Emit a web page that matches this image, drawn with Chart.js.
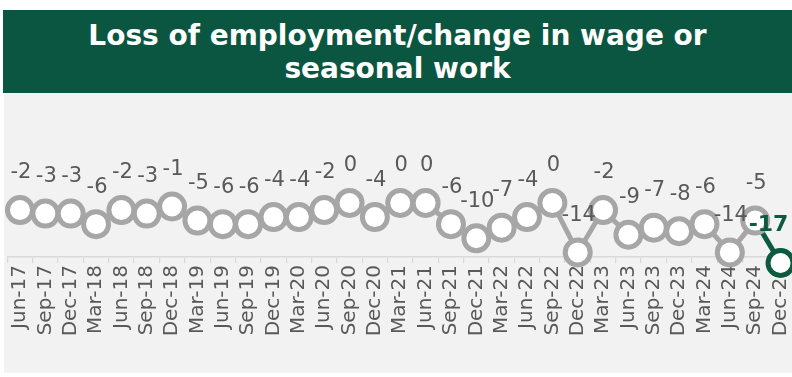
<!DOCTYPE html>
<html>
<head>
<meta charset="utf-8">
<script src="https://cdn.jsdelivr.net/npm/chart.js@4"></script>
<style>
  html, body { margin: 0; padding: 0; background: #ffffff; width: 792px; height: 377px; overflow: hidden; }
  #title {
    position: absolute; left: 3px; top: 10px; width: 789px; height: 83px;
    background: #0b5640; color: #ffffff;
    font-family: "DejaVu Sans", sans-serif; font-weight: bold; font-size: 28px; line-height: 33px;
    text-align: center; display: flex; align-items: center; justify-content: center;
  }
  #panel { position: absolute; left: 4px; top: 93px; width: 788px; height: 280px; background: #f2f2f2; overflow: hidden; }
  #panel canvas { position: absolute; left: 0; top: 0; }
</style>
</head>
<body>
<div id="title"><div>Loss of employment/change in wage or<br>seasonal work</div></div>
<div id="panel"><canvas id="chart" width="792" height="280"></canvas></div>
<script>
// Quarterly net balance (%)
const quarters = [
  'Jun-17', 'Sep-17', 'Dec-17', 'Mar-18', 'Jun-18', 'Sep-18', 'Dec-18',
  'Mar-19', 'Jun-19', 'Sep-19', 'Dec-19', 'Mar-20', 'Jun-20', 'Sep-20', 'Dec-20',
  'Mar-21', 'Jun-21', 'Sep-21', 'Dec-21', 'Mar-22', 'Jun-22', 'Sep-22', 'Dec-22',
  'Mar-23', 'Jun-23', 'Sep-23', 'Dec-23', 'Mar-24', 'Jun-24', 'Sep-24', 'Dec-24'
];
const values = [
  -2, -3, -3, -6, -2, -3, -1,
  -5, -6, -6, -4, -4, -2, 0, -4,
  0, 0, -6, -10, -7, -4, 0, -14,
  -2, -9, -7, -8, -6, -14, -5, -17
];

const GREEN = '#0d5b3f';
const GREY_LINE = '#a6a6a6';
const LABEL_GREY = '#595959';
const lastIndex = values.length - 1;

// Value labels above each marker; the latest quarter is emphasised
const valueLabels = {
  id: 'valueLabels',
  afterDatasetsDraw(chart) {
    const ctx = chart.ctx;
    const meta = chart.getDatasetMeta(0);
    ctx.save();
    ctx.textAlign = 'center';
    ctx.textBaseline = 'middle';
    meta.data.forEach((pt, i) => {
      const latest = i === lastIndex;
      ctx.font = latest ? 'bold 22px "DejaVu Sans", sans-serif' : '21px "DejaVu Sans", sans-serif';
      ctx.fillStyle = latest ? GREEN : LABEL_GREY;
      ctx.fillText(String(values[i]), pt.x + (latest ? -12 : 1), pt.y - (latest ? 38 : 37));
    });
    ctx.restore();
  }
};

new Chart(document.getElementById('chart'), {
  type: 'line',
  data: {
    labels: quarters,
    datasets: [{
      data: values,
      borderColor: GREY_LINE,
      borderWidth: 5,
      tension: 0,
      clip: false,
      pointRadius: 12.5,
      pointBorderWidth: 5,
      pointBackgroundColor: '#ffffff',
      pointBorderColor: values.map((v, i) => i === lastIndex ? GREEN : GREY_LINE),
      segment: {
        borderColor: c => c.p1DataIndex === lastIndex ? GREEN : GREY_LINE
      }
    }]
  },
  options: {
    responsive: false,
    animation: false,
    layout: { autoPadding: false, padding: { left: 3.3, right: 2.8, top: 4, bottom: 0 } },
    plugins: { legend: { display: false }, tooltip: { enabled: false }, title: { display: false } },
    scales: {
      x: {
        type: 'category',
        offset: true,
        afterFit: scale => {
          scale.height = 116;
          scale.paddingLeft = 0;
          scale.paddingRight = 0;
        },
        border: { display: true, color: '#d9d9d9', width: 1.5 },
        grid: { display: true, offset: true, drawOnChartArea: false, drawTicks: true, tickLength: 6, color: '#d9d9d9', lineWidth: 1.2 },
        ticks: {
          autoSkip: false, minRotation: 90, maxRotation: 90, padding: 2,
          color: LABEL_GREY,
          font: { family: '"DejaVu Sans", sans-serif', size: 20 }
        }
      },
      y: {
        display: false,
        min: -15.3,
        max: 30
      }
    }
  },
  plugins: [valueLabels]
});
</script>
</body>
</html>
